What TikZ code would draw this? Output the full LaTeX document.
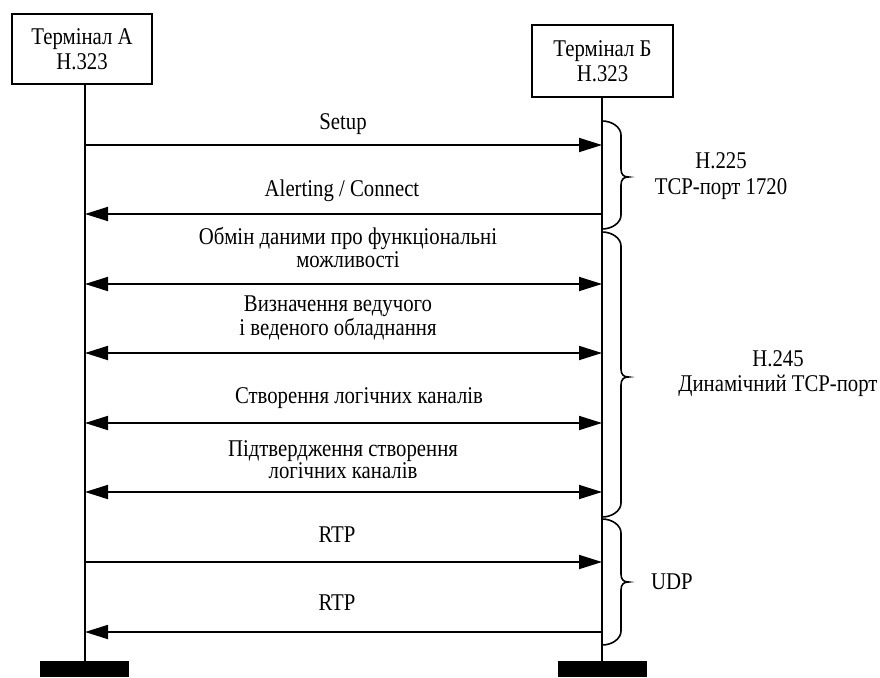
\documentclass[tikz,border=0pt]{standalone}
\usepackage{fontspec}
\setmainfont[FakeStretch=0.865]{Liberation Serif}
\usetikzlibrary{arrows.meta}

% curly brace to the right of the B lifeline: #1 top, #2 bottom, #3 tip
\newcommand{\sideBrace}[3]{%
  \draw[brc] (602,#1) .. controls (612.5,#1) and (621,#1+6.5) .. (621,#1+14)
    -- (621,#3-8) .. controls (621,#3-2) and (624,#3) .. (628.5,#3)
    .. controls (624,#3) and (621,#3+2) .. (621,#3+8)
    -- (621,#2-14) .. controls (621,#2-6.5) and (612.5,#2) .. (602,#2);}

\begin{document}
\begin{tikzpicture}[x=1pt,y=-1pt,
  every node/.style={inner sep=0pt, text=black},
  term/.style={draw, line width=1.6pt, align=center,
    font=\fontsize{24}{25.5}\selectfont},
  life/.style={line width=1.8pt},
  tipA/.tip={Triangle[length=23pt,width=14pt]},
  msg/.style={line width=1.8pt, -tipA},
  dmsg/.style={line width=1.8pt, tipA-tipA},
  lbl/.style={align=center, anchor=base, font=\fontsize{24}{20}\selectfont},
  side/.style={align=center, anchor=base, font=\fontsize{24}{25.5}\selectfont},
  brc/.style={line width=1.6pt},
  endbar/.style={fill=black, minimum width=89pt, minimum height=16pt}
]
\useasboundingbox (0,0) rectangle (880,677);

% terminals
\node[term, minimum width=140pt, minimum height=70pt] (ta) at (82,49) {Термінал А\\H.323};
\node[term, minimum width=141pt, minimum height=72pt] (tb) at (602.5,61) {Термінал Б\\H.323};

% end bars
\node[endbar] (ea) at (84.5,669) {};
\node[endbar] (eb) at (602,669) {};

% lifelines
\coordinate (la) at (85,84);
\coordinate (lb) at (602,97);
\draw[life] (la) -- (ea.north -| la);
\draw[life] (lb) -- (eb.north -| lb);

% message anchors on the lifelines
\foreach \i/\y in {1/145,2/214,3/284,4/353,5/423,6/492,7/562,8/632}{
  \coordinate (a\i) at (85,\y);
  \coordinate (b\i) at (602,\y);
}

% messages
\draw[msg] (a1) -- (b1);
\draw[msg] (b2) -- (a2);
\draw[dmsg] (a3) -- (b3);
\draw[dmsg] (a4) -- (b4);
\draw[dmsg] (a5) -- (b5);
\draw[dmsg] (a6) -- (b6);
\draw[msg] (a7) -- (b7);
\draw[msg] (b8) -- (a8);

% message labels (base = baseline of the last line)
\node[lbl] (l1) at (343,129) {Setup};
\node[lbl] (l2) at (342,196) {Alerting / Connect};
\node[lbl] (l3) at (348,267) {Обмін даними про функціональні\\можливості};
\node[lbl] (l4) at (338,335) {Визначення ведучого\\і веденого обладнання};
\node[lbl] (l5) at (359,403) {Створення логічних каналів};
\node[lbl] (l6) at (343,478) {Підтвердження створення\\логічних каналів};
\node[lbl] (l7) at (337,542) {RTP};
\node[lbl] (l8) at (337,610) {RTP};

% protocol braces
\sideBrace{121}{229}{177}
\sideBrace{232}{517}{377}
\sideBrace{519}{645}{582}

\node[side] (p1) at (721,194) {H.225\\TCP-порт 1720};
\node[side] (p2) at (778,391.5) {H.245\\Динамічний TCP-порт};
\node[side] (p3) at (672,589) {UDP};
\end{tikzpicture}
\end{document}
